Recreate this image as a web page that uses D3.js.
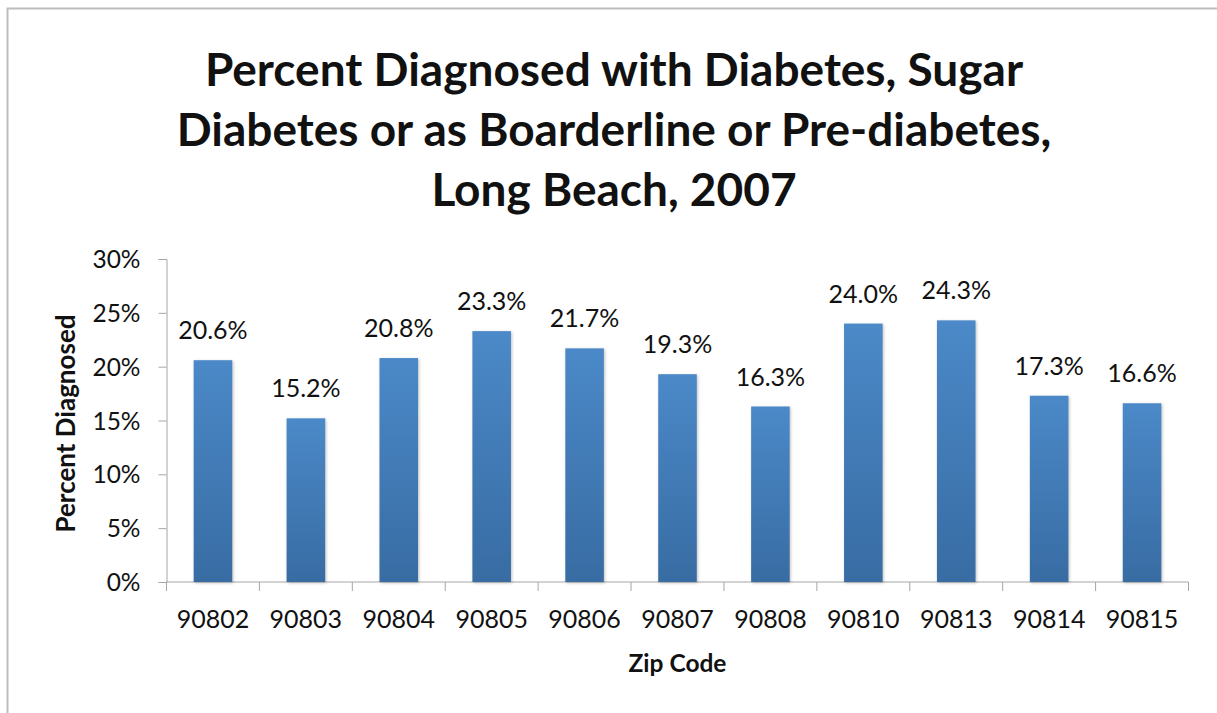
<!DOCTYPE html>
<html>
<head>
<meta charset="utf-8" />
<script src="https://cdn.jsdelivr.net/npm/d3@7"></script>
<title>diabetes</title>
<style>
  body { margin: 0; background: #fff; }
  text { font-family: Lato, "Open Sans", sans-serif; fill: #111; }
</style>
</head>
<body>
<script>
// data
const zips = ["90802","90803","90804","90805","90806","90807","90808","90810","90813","90814","90815"];
const pct = [20.6, 15.2, 20.8, 23.3, 21.7, 19.3, 16.3, 24.0, 24.3, 17.3, 16.6];
const yTicks = [0, 5, 10, 15, 20, 25, 30];
const titleLines = ["Percent Diagnosed with Diabetes, Sugar",
                    "Diabetes or as Boarderline or Pre-diabetes,",
                    "Long Beach, 2007"];

const W = 1217, H = 713;
const plotL = 166.5, plotR = 1188.5, plotT = 259, plotB = 582;

const svg = d3.select("body").append("svg")
  .attr("width", W).attr("height", H);

// outer frame
svg.append("rect")
  .attr("x", 7.5).attr("y", 8.5)
  .attr("width", W + 20).attr("height", H + 20)
  .attr("fill", "none").attr("stroke", "#bdbdbd").attr("stroke-width", 2);

const grad = svg.append("defs").append("linearGradient")
  .attr("id", "barfill").attr("x1", 0).attr("y1", 0).attr("x2", 0).attr("y2", 1);
grad.append("stop").attr("offset", "0%").attr("stop-color", "#4b89c8");
grad.append("stop").attr("offset", "100%").attr("stop-color", "#386ca3");

const x = d3.scaleBand().domain(zips).range([plotL, plotR]).paddingInner(0.585).paddingOuter(0.2925);
const y = d3.scaleLinear().domain([0, 30]).range([plotB, plotT]);

// title
svg.append("g").selectAll("text").data(titleLines).join("text")
  .attr("x", 614).attr("y", (d, i) => 86 + i * 60)
  .attr("text-anchor", "middle")
  .attr("font-size", 46).attr("font-weight", "bold").attr("fill", "#0a0a0a")
  .text(d => d);

// y axis
const yAxis = svg.append("g")
  .attr("transform", `translate(${plotL},0)`)
  .call(d3.axisLeft(y).tickValues(yTicks).tickSize(8).tickFormat(d => d + "%"));
yAxis.select(".domain").attr("stroke", "#a6a6a6");
yAxis.selectAll(".tick line").attr("stroke", "#a6a6a6");
yAxis.selectAll(".tick text").attr("font-size", 24.5).attr("fill", "#222")
  .attr("x", -26).attr("dy", "0.35em").style("font-family", "Lato, sans-serif");

// x axis: ticks at category boundaries
const xg = svg.append("g").attr("transform", `translate(0,${plotB})`);
xg.append("line").attr("x1", plotL).attr("x2", plotR)
  .attr("stroke", "#a6a6a6");
const step = x.step();
xg.selectAll(".bound").data(d3.range(zips.length + 1)).join("line")
  .attr("x1", i => plotL + i * step).attr("x2", i => plotL + i * step)
  .attr("y1", 0).attr("y2", 9).attr("stroke", "#a6a6a6");
xg.selectAll(".lab").data(zips).join("text")
  .attr("x", d => x(d) + x.bandwidth() / 2).attr("y", 46)
  .attr("text-anchor", "middle").attr("font-size", 25).attr("fill", "#222")
  .text(d => d);

// bars
const bars = svg.append("g");
bars.selectAll("rect").data(zips).join("rect")
  .attr("x", d => x(d)).attr("width", x.bandwidth())
  .attr("y", (d, i) => y(pct[i])).attr("height", (d, i) => y(0) - y(pct[i]))
  .attr("fill", "url(#barfill)")
  .style("filter", "drop-shadow(1px 1px 1.5px rgba(0,0,0,0.25))");

// value labels
svg.append("g").selectAll("text").data(zips).join("text")
  .attr("x", d => x(d) + x.bandwidth() / 2)
  .attr("y", (d, i) => y(pct[i]) - 21)
  .attr("text-anchor", "middle").attr("font-size", 25).attr("fill", "#222")
  .text((d, i) => pct[i].toFixed(1) + "%");

// axis titles
svg.append("text")
  .attr("transform", `translate(75,${(plotT + plotB) / 2 + 3}) rotate(-90)`)
  .attr("text-anchor", "middle").attr("font-size", 26).attr("font-weight", "bold")
  .text("Percent Diagnosed");
svg.append("text")
  .attr("x", (plotL + plotR) / 2).attr("y", 672)
  .attr("text-anchor", "middle").attr("font-size", 24.5).attr("font-weight", "bold")
  .text("Zip Code");
</script>
</body>
</html>
